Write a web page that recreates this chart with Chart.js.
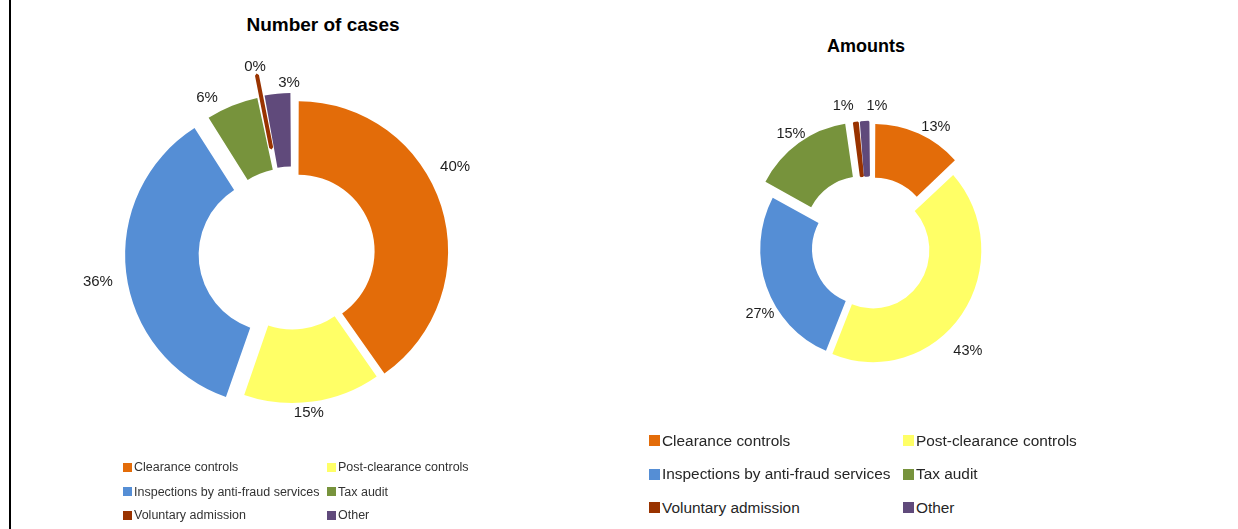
<!DOCTYPE html>
<html>
<head>
<meta charset="utf-8">
<script src="https://cdn.jsdelivr.net/npm/chart.js@4"></script>
<style>
  html, body { margin:0; padding:0; background:#fff; }
  body { width:1238px; height:529px; position:relative; overflow:hidden; font-family:"Liberation Sans", Arial, sans-serif; }
  #frame { position:absolute; left:9px; top:0; width:2px; height:529px; background:#000; }
  .wrap { position:absolute; }
  .title { position:absolute; font-weight:bold; color:#000; white-space:nowrap; transform:translate(-50%,-50%); }
  .legend { position:absolute; left:0; top:0; }
  .legend .item { position:absolute; white-space:nowrap; display:flex; align-items:center; }
  .legend .sw { display:inline-block; margin-right:2px; }
</style>
</head>
<body>
<div id="frame"></div>
<div id="titleCases" class="title" style="left:323px;top:25px;font-size:19px"></div>
<div id="titleAmounts" class="title" style="left:866px;top:46px;font-size:18px"></div>
<div class="wrap" style="left:10px;top:0;width:564px;height:506px"><canvas id="chartCases"></canvas></div>
<div class="wrap" style="left:640px;top:0;width:460px;height:496px"><canvas id="chartAmounts"></canvas></div>
<div id="legendCases" class="legend"></div>
<div id="legendAmounts" class="legend"></div>
<script>
// ---- data (shares in %) ----
const categories   = ['Clearance controls', 'Post-clearance controls', 'Inspections by anti-fraud services', 'Tax audit', 'Voluntary admission', 'Other'];
const casesShare   = [40.3, 15.0, 35.7, 5.7, 0.4, 2.9];
const amountsShare = [13.2, 43.0, 26.6, 14.9, 0.9, 1.4];
const chartTitles  = ['Number of cases', 'Amounts'];

const sliceColors = ['#E36C09', '#FFFF66', '#558ED5', '#77933C', '#993300', '#604A7B'];

// optional vertical stretch of the ring (the second picture is a bit taller than wide)
// and "NN%" text next to each slice, placed from the arc geometry
const sliceLabels = {
  id: 'sliceLabels',
  beforeDatasetsDraw(chart, args, opts) {
    const a0 = chart.getDatasetMeta(0).data[0];
    const ctx = chart.ctx;
    ctx.save();
    ctx.translate(a0.x, a0.y);
    ctx.scale(1, opts.scaleY || 1);
    ctx.translate(-a0.x, -a0.y);
  },
  afterDatasetsDraw(chart, args, opts) {
    const ctx = chart.ctx;
    ctx.restore();
    const k = opts.scaleY || 1;
    const vals = chart.data.datasets[0].data;
    const total = vals.reduce((s, v) => s + v, 0);
    ctx.save();
    ctx.font = opts.font;
    ctx.fillStyle = opts.color;
    ctx.textAlign = 'center';
    ctx.textBaseline = 'middle';
    chart.getDatasetMeta(0).data.forEach((arc, i) => {
      const p = arc.getProps(['x', 'y', 'startAngle', 'endAngle', 'outerRadius']);
      const [dA, extra] = opts.nudge[i];
      const a = (p.startAngle + p.endAngle) / 2 + dA * Math.PI / 180;
      const r = p.outerRadius + extra;
      ctx.fillText(Math.round(vals[i] / total * 100) + '%', p.x + Math.cos(a) * r, p.y + Math.sin(a) * r * k);
    });
    ctx.restore();
  }
};

// chart.js moves an arc by offset/4*(1+fix); invert that so each slice moves by `push` px
const explode = push => c => {
  const vals = c.dataset.data;
  const total = vals.reduce((s, v) => s + v, 0);
  const circ = 2 * Math.PI * vals[c.dataIndex] / total;
  const fix = 1 - Math.sin(Math.min(Math.PI, circ));
  return 4 * push[c.dataIndex] / (1 + fix);
};

function makeDonut(id, values, cfg) {
  return new Chart(document.getElementById(id), {
    type: 'doughnut',
    data: {
      labels: categories,
      datasets: [{
        data: values, backgroundColor: sliceColors,
        borderColor: sliceColors, borderWidth: cfg.border,   // border only thickens the thin slivers
        offset: explode(cfg.push), hoverOffset: 0
      }]
    },
    options: {
      responsive: true, maintainAspectRatio: false, animation: false, events: [],
      radius: cfg.radius, cutout: cfg.cutout,
      layout: { padding: 0 },
      plugins: {
        legend: { display: false },
        tooltip: { enabled: false },
        sliceLabels: { font: cfg.font, color: '#1e1e1e', nudge: cfg.nudge, scaleY: cfg.scaleY }
      }
    },
    plugins: [sliceLabels]
  });
}

const casesChart = makeDonut('chartCases', casesShare, {
  radius: 147, cutout: '50%', scaleY: 1,
  push: [9.4, 3, 20, 12, 34, 13],
  border: [0, 0, 0, 0, 4, 0],
  font: '15px "Liberation Sans", Arial',
  nudge: [[-10.3, 37.3], [1.9, 13.9], [-1.8, 49.2], [-6.6, 29.8], [-0.1, 42.6], [4.2, 23]]
});

const amountsChart = makeDonut('chartAmounts', amountsShare, {
  radius: 106, cutout: '51%', scaleY: 1.034,
  push: [15, 6, 4, 18, 16, 16],
  border: [0, 0, 0, 0, 2, 2],
  font: '14.5px "Liberation Sans", Arial',
  nudge: [[5.7, 27.9], [10.6, 33.7], [-10.3, 21.2], [-0.5, 29.7], [-4.4, 33.9], [5.4, 31.5]]
});

document.getElementById('titleCases').textContent = chartTitles[0];
document.getElementById('titleAmounts').textContent = chartTitles[1];

// two-column legend under each donut, built from the chart's own legend items
function buildLegend(id, chart, cols, rows, fontSize, box, color) {
  const host = document.getElementById(id);
  chart.options.plugins.legend.labels.generateLabels(chart).forEach((it, i) => {
    const d = document.createElement('div');
    d.className = 'item';
    const lh = fontSize + 6;
    d.style.left = cols[i % 2] + 'px';
    d.style.top = (rows[Math.floor(i / 2)] - lh / 2) + 'px';
    d.style.height = lh + 'px';
    d.style.fontSize = fontSize + 'px';
    d.style.color = color;
    const sw = document.createElement('span');
    sw.className = 'sw';
    sw.style.width = box + 'px';
    sw.style.height = box + 'px';
    sw.style.background = it.fillStyle;
    d.appendChild(sw);
    d.appendChild(document.createTextNode(it.text));
    host.appendChild(d);
  });
}

buildLegend('legendCases', casesChart, [123, 327], [467, 491.5, 515], 12.5, 9, '#333');
buildLegend('legendAmounts', amountsChart, [649, 903], [441, 474.5, 508], 15.4, 11, '#262626');
</script>
</body>
</html>
